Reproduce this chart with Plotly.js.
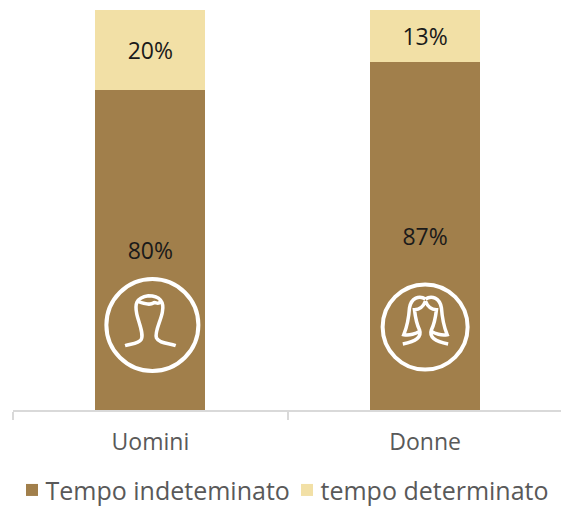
<!DOCTYPE html>
<html>
<head>
<meta charset="utf-8">
<script src="https://cdn.plot.ly/plotly-3.0.0.min.js"></script>
<style>html,body{margin:0;padding:0;background:#fff;overflow:hidden}</style>
</head>
<body>
<div id="chart" style="width:561px;height:507px"></div>
<script>
const categories = ['Uomini', 'Donne'];
const seriesNames = ['Tempo indeteminato', 'tempo determinato'];
const indeterminato = [0.80, 0.87];
const determinato = [0.20, 0.13];
const colors = ['#A17F4B', '#F2E0A6'];
const fontFamily = '"Open Sans", sans-serif';

function icon(path, cx, cy) {
  return path.replace(/(-?\d+),(-?\d+)/g, (m, x, y) =>
    ((+x - cx) / 3).toFixed(2) + ',' + ((cy - +y) / 3).toFixed(2));
}
const manPath = 'M110,256 C130,250 150,250 158,238 C168,222 150,185 145,160 C140,135 140,112 180,106 C215,106 228,125 222,155 C218,180 198,215 204,232 C212,250 240,248 262,256 M146,122 C160,128 185,135 195,128 C200,122 208,135 215,125';
const womanPath = 'M178,108 C160,96 135,104 130,135 C128,165 125,185 113,215 C130,218 150,212 160,205 M178,114 C170,135 155,140 145,140 C148,165 150,180 160,200 C168,222 150,235 110,243 M178,108 C196,96 221,104 226,135 C228,165 231,185 243,215 C226,218 206,212 196,205 M178,114 C186,135 201,140 211,140 C208,165 206,180 196,200 C188,222 206,235 246,243';

function iconShape(path, cat, yAnchor, w) {
  return {type:'path', xref:'x', yref:'y', xsizemode:'pixel', ysizemode:'pixel',
    xanchor:cat, yanchor:yAnchor, path:path, layer:'above',
    line:{color:'#ffffff', width:w}, fillcolor:'rgba(0,0,0,0)'};
}
function ringShape(r, dx, cat, yAnchor, w) {
  return {type:'circle', xref:'x', yref:'y', xsizemode:'pixel', ysizemode:'pixel',
    xanchor:cat, yanchor:yAnchor, x0:dx-r, x1:dx+r, y0:-r, y1:r, layer:'above',
    line:{color:'#ffffff', width:w}, fillcolor:'rgba(0,0,0,0)'};
}

const traces = [
  {type:'bar', name:seriesNames[0], x:categories, y:indeterminato, marker:{color:colors[0]},
   text:indeterminato.map(v => Math.round(v*100)+'%')},
  {type:'bar', name:seriesNames[1], x:categories, y:determinato, marker:{color:colors[1]},
   text:determinato.map(v => Math.round(v*100)+'%')}
].map(t => Object.assign(t, {
  textposition:'inside', insidetextanchor:'middle', textangle:0, constraintext:'none',
  textfont:{family:fontFamily, size:23, color:'#1a1a1a'}, hoverinfo:'skip'
}));

const layout = {
  width:561, height:507, barmode:'stack', bargap:0.6,
  margin:{l:12.5, r:0, t:10, b:97, pad:0, autoexpand:false},
  paper_bgcolor:'#fff', plot_bgcolor:'#fff',
  font:{family:fontFamily},
  xaxis:{type:'category', range:[-0.5, 1.4945], tickson:'boundaries', ticks:'outside', ticklen:8, tickwidth:2,
    tickcolor:'#d9d9d9', showline:true, linecolor:'#d9d9d9', linewidth:2, showgrid:false, zeroline:false,
    ticklabelstandoff:10, tickfont:{family:fontFamily, size:23, color:'#595959'}},
  yaxis:{range:[0,1], visible:false, fixedrange:true},
  showlegend:true,
  legend:{orientation:'h', x:-0.0137, xanchor:'left', y:-0.143, yanchor:'top', traceorder:'normal',
    maxheight:90,
    font:{family:fontFamily, size:25, color:'#595959'}, itemclick:false, itemdoubleclick:false, bgcolor:'rgba(0,0,0,0)'},
  shapes:[
    ringShape(46, 2, 'Uomini', 0.2125, 4),
    iconShape(icon(manPath,186,194), 'Uomini', 0.2125, 3.5),
    ringShape(42.5, 0, 'Donne', 0.2075, 4),
    iconShape(icon(womanPath,177,192), 'Donne', 0.2075, 3.5)
  ]
};
Plotly.newPlot('chart', traces, layout, {displayModeBar:false}).then(gd => {
  gd.querySelectorAll('.legend .legendsymbols').forEach(el => {
    el.setAttribute('transform', 'translate(6.5,0)');
  });
  gd.querySelectorAll('.legend .scrollbox').forEach(el => el.removeAttribute('clip-path'));
  const items = gd.querySelectorAll('.legend .traces');
  const m = /translate\(([-\d.]+)[ ,]+([-\d.]+)\)/.exec(items[0].getAttribute('transform'));
  items[1].setAttribute('transform', `translate(${+m[1] + 275},${m[2]})`);
});
</script>
</body>
</html>
